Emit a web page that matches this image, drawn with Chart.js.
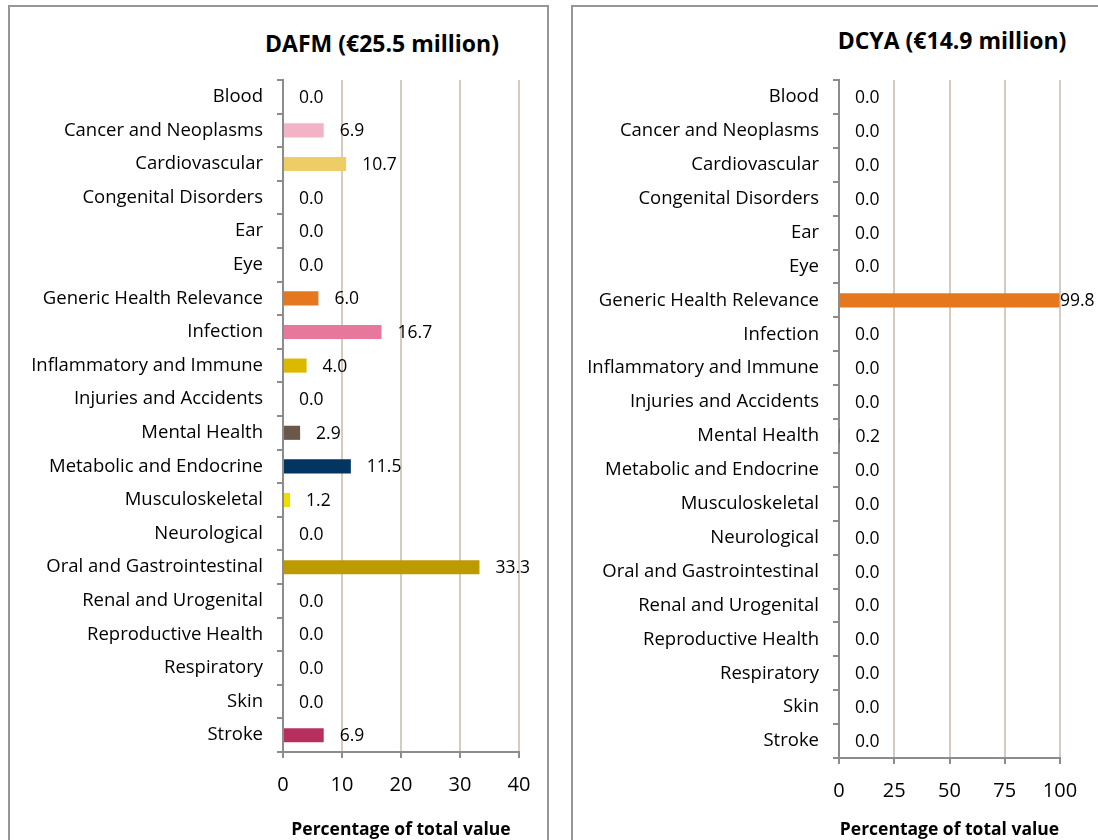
<!DOCTYPE html>
<html>
<head>
<meta charset="utf-8">
<script src="https://cdn.jsdelivr.net/npm/chart.js@4"></script>
<style>
  body { margin: 0; width: 1098px; height: 840px; overflow: hidden; background: #fff; font-family: "Open Sans", sans-serif; }
  .box { position: absolute; top: 5px; height: 860px; border: 2px solid #969696; box-sizing: border-box; }
  .title { position: absolute; font-weight: bold; font-size: 23px; color: #000; white-space: nowrap; transform: translate(-50%, -50%); }
  canvas { position: absolute; }
</style>
</head>
<body>
<div class="box" style="left:8px; width:541px;"></div>
<div class="box" style="left:571px; width:560px;"></div>
<div class="title" style="left:382px; top:43px;">DAFM (€25.5 million)</div>
<div class="title" style="left:952px; top:40px;">DCYA (€14.9 million)</div>
<canvas id="dafm" width="539" height="834" style="left:9px; top:6px;"></canvas>
<canvas id="dcya" width="540" height="834" style="left:572px; top:6px;"></canvas>
<script>
const categories = ["Blood", "Cancer and Neoplasms", "Cardiovascular", "Congenital Disorders", "Ear", "Eye",
  "Generic Health Relevance", "Infection", "Inflammatory and Immune", "Injuries and Accidents", "Mental Health",
  "Metabolic and Endocrine", "Musculoskeletal", "Neurological", "Oral and Gastrointestinal", "Renal and Urogenital",
  "Reproductive Health", "Respiratory", "Skin", "Stroke"]

const dafmValues = [0.0, 6.9, 10.7, 0.0, 0.0, 0.0, 6.0, 16.7, 4.0, 0.0, 2.9, 11.5, 1.2, 0.0, 33.3, 0.0, 0.0, 0.0, 0.0, 6.9]
const dcyaValues = [0.0, 0.0, 0.0, 0.0, 0.0, 0.0, 99.8, 0.0, 0.0, 0.0, 0.2, 0.0, 0.0, 0.0, 0.0, 0.0, 0.0, 0.0, 0.0, 0.0]

const dafmTicks = [0, 10, 20, 30, 40]
const dcyaTicks = [0, 25, 50, 75, 100]

const categoryColors = ["#c0504d", "#f2b3c6", "#eecc66", "#8064a2", "#4bacc6", "#9bbb59",
  "#e5781f", "#e8779c", "#ddb800", "#7f7f7f", "#6b5848",
  "#043460", "#f2dc00", "#4f81bd", "#bd9a00", "#76923c",
  "#31859c", "#953735", "#c3d69b", "#b5305f"]

const axisGray = "#8c8c8c"
const gridTan = "#d6cbc0"
const fontFamily = "'Open Sans'"

// value labels drawn just past the end of each bar
const valueLabels = {
  id: 'valueLabels',
  afterDatasetsDraw(chart) {
    const ctx = chart.ctx
    const area = chart.chartArea
    const meta = chart.getDatasetMeta(0)
    const data = chart.data.datasets[0].data
    ctx.save()
    ctx.font = "17.5px " + fontFamily
    ctx.fillStyle = "#000"
    ctx.textAlign = "left"
    ctx.textBaseline = "middle"
    meta.data.forEach((bar, i) => {
      const x = Math.min(bar.x + 16, area.right)
      ctx.fillText(data[i].toFixed(1), x, bar.y + 1)
    })
    ctx.restore()
  }
}

function makeChart(id, values, ticks, yWidth, rightPad, xHeight) {
  return new Chart(document.getElementById(id), {
    type: 'bar',
    data: {
      labels: categories,
      datasets: [{
        data: values,
        backgroundColor: categoryColors,
        categoryPercentage: 1,
        barPercentage: 0.42
      }]
    },
    options: {
      indexAxis: 'y',
      responsive: false,
      animation: false,
      layout: { padding: { top: 74, right: rightPad, left: 0, bottom: 0 } },
      plugins: { legend: { display: false }, tooltip: { enabled: false } },
      scales: {
        x: {
          min: ticks[0],
          max: ticks[ticks.length - 1],
          afterBuildTicks: (scale) => { scale.ticks = ticks.map(v => ({ value: v })) },
          afterFit: (scale) => { scale.height = xHeight },
          grid: { color: gridTan, lineWidth: 2, tickColor: axisGray, tickLength: 6 },
          border: { color: axisGray, width: 2 },
          ticks: { color: "#000", font: { family: fontFamily, size: 20 }, padding: 15, maxRotation: 0 },
          title: {
            display: true,
            text: "Percentage of total value",
            color: "#000",
            font: { family: fontFamily, size: 17.5, weight: "bold" },
            padding: { top: 0, bottom: -1 }
          }
        },
        y: {
          afterFit: (scale) => { scale.width = yWidth },
          grid: { drawOnChartArea: false, color: axisGray, lineWidth: 2, tickLength: 6, offset: true },
          border: { color: axisGray, width: 2 },
          ticks: { color: "#000", font: { family: fontFamily, size: 18.5 }, padding: 14, autoSkip: false }
        }
      }
    },
    plugins: [valueLabels]
  })
}

const dafmChart = makeChart("dafm", dafmValues, dafmTicks, 274, 29, 88)
const dcyaChart = makeChart("dcya", dcyaValues, dcyaTicks, 267, 52, 82)
</script>
</body>
</html>
